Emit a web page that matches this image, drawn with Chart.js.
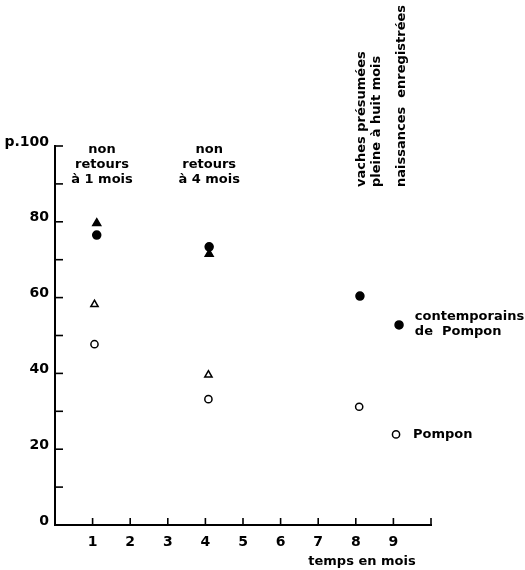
<!DOCTYPE html>
<html>
<head>
<meta charset="utf-8">
<script src="https://cdn.jsdelivr.net/npm/chart.js@4.4.1/dist/chart.umd.min.js"></script>
<style>
html, body { margin: 0; padding: 0; background: #fff; }
#wrap { width: 525px; height: 570px; }
</style>
</head>
<body>
<div id="wrap"><canvas id="chart"></canvas></div>
<script>
// values (x = mois, y = p.100)
const contempX = [1.11, 4.10, 8.11, 9.15]
const contempY = [76.5, 73.4, 60.4, 52.8]
const pomponX = [1.05, 4.08, 8.09, 9.07]
const pomponY = [47.7, 33.2, 31.2, 23.9]
const contempTriX = [1.11, 4.10]
const contempTriY = [79.6, 71.5]
const pomponTriX = [1.05, 4.08]
const pomponTriY = [58.2, 39.6]

const xLabels = ['1', '2', '3', '4', '5', '6', '7', '8', '9']
const yLabels = { 0: '0', 20: '20', 40: '40', 60: '60', 80: '80', 100: 'p.100' }

const FONT = '"DejaVu Sans", sans-serif'
const TXT = 'bold 13px ' + FONT

const toPoints = (xs, ys) => xs.map((x, i) => ({ x: x, y: ys[i] }))

const dataset = (label, xs, ys, style, filled, r) => ({
    label: label,
    data: toPoints(xs, ys),
    pointStyle: style,
    pointRadius: r,
    pointBorderWidth: 1.5,
    borderColor: '#000',
    backgroundColor: filled ? '#000' : '#fff',
    showLine: false,
})

// inward tick marks, drawn from the scales' own ticks
const innerTicks = {
    id: 'innerTicks',
    afterDraw(chart) {
        const ctx = chart.ctx
        const { x, y } = chart.scales
        const area = chart.chartArea
        ctx.save()
        ctx.strokeStyle = '#000'
        ctx.lineWidth = 1.6
        for (const t of y.ticks) {
            const py = y.getPixelForValue(t.value)
            ctx.beginPath()
            ctx.moveTo(area.left, py)
            ctx.lineTo(area.left + 8, py)
            ctx.stroke()
        }
        for (const t of x.ticks) {
            if (t.value === 0) continue
            const px = x.getPixelForValue(t.value)
            ctx.beginPath()
            ctx.moveTo(px, area.bottom)
            ctx.lineTo(px, area.bottom - 7)
            ctx.stroke()
        }
        ctx.restore()
    }
}

// texts written on the figure
const notes = {
    id: 'notes',
    afterDraw(chart) {
        const ctx = chart.ctx
        const { x, y } = chart.scales
        ctx.save()
        ctx.fillStyle = '#000'
        ctx.font = TXT
        ctx.textBaseline = 'middle'

        ctx.textAlign = 'center'
        const head1 = ['non', 'retours', 'à 1 mois']
        const head4 = ['non', 'retours', 'à 4 mois']
        head1.forEach((s, i) => ctx.fillText(s, x.getPixelForValue(1.25), 150 + i * 15))
        head4.forEach((s, i) => ctx.fillText(s, x.getPixelForValue(4.1), 150 + i * 15))

        const vertical = [
            ['vaches présumées', 362],
            ['pleine à huit mois', 377],
            ['naissances  enregistrées', 402],
        ]
        ctx.textAlign = 'left'
        for (const [s, px] of vertical) {
            ctx.save()
            ctx.translate(px, 187)
            ctx.rotate(-Math.PI / 2)
            ctx.fillText(s, 0, 0)
            ctx.restore()
        }

        const lx = x.getPixelForValue(9.57)
        ctx.fillText('contemporains', lx, y.getPixelForValue(54.9))
        ctx.fillText('de  Pompon', lx, y.getPixelForValue(51.1))
        ctx.fillText('Pompon', x.getPixelForValue(9.52), y.getPixelForValue(pomponY[3]))

        ctx.textAlign = 'center'
        ctx.fillText('temps en mois', 362, 562)
        ctx.restore()
    }
}

new Chart(document.getElementById('chart'), {
    type: 'scatter',
    data: {
        datasets: [
            dataset('contemporains de Pompon', contempX, contempY, 'circle', true, 4),
            dataset('Pompon', pomponX, pomponY, 'circle', false, 3.6),
            dataset('contemporains (triangle)', contempTriX, contempTriY, 'triangle', true, 4.6),
            dataset('Pompon (triangle)', pomponTriX, pomponTriY, 'triangle', false, 4.2),
        ]
    },
    options: {
        responsive: true,
        maintainAspectRatio: false,
        animation: false,
        events: [],
        layout: { padding: { top: 146, right: 94, left: 0, bottom: 0 } },
        plugins: {
            legend: { display: false },
            tooltip: { enabled: false },
        },
        scales: {
            x: {
                type: 'linear',
                min: 0,
                max: 10,
                afterFit: (s) => { s.height = 45 },
                grid: { display: true, drawOnChartArea: false, drawTicks: false, color: 'transparent' },
                border: { display: true, color: '#000', width: 2 },
                ticks: {
                    stepSize: 1,
                    padding: 9,
                    color: '#000',
                    font: { family: FONT, size: 14, weight: 'bold' },
                    maxRotation: 0,
                    autoSkip: false,
                    callback: (v) => xLabels[v - 1] || '',
                },
            },
            y: {
                type: 'linear',
                min: 0,
                max: 100,
                afterFit: (s) => { s.width = 55 },
                grid: { display: true, drawOnChartArea: false, drawTicks: false, color: 'transparent' },
                border: { display: true, color: '#000', width: 2 },
                ticks: {
                    stepSize: 10,
                    padding: 6,
                    labelOffset: -4,
                    color: '#000',
                    font: { family: FONT, size: 14, weight: 'bold' },
                    autoSkip: false,
                    callback: (v) => yLabels[v] || '',
                },
            },
        },
    },
    plugins: [innerTicks, notes],
})
</script>
</body>
</html>
